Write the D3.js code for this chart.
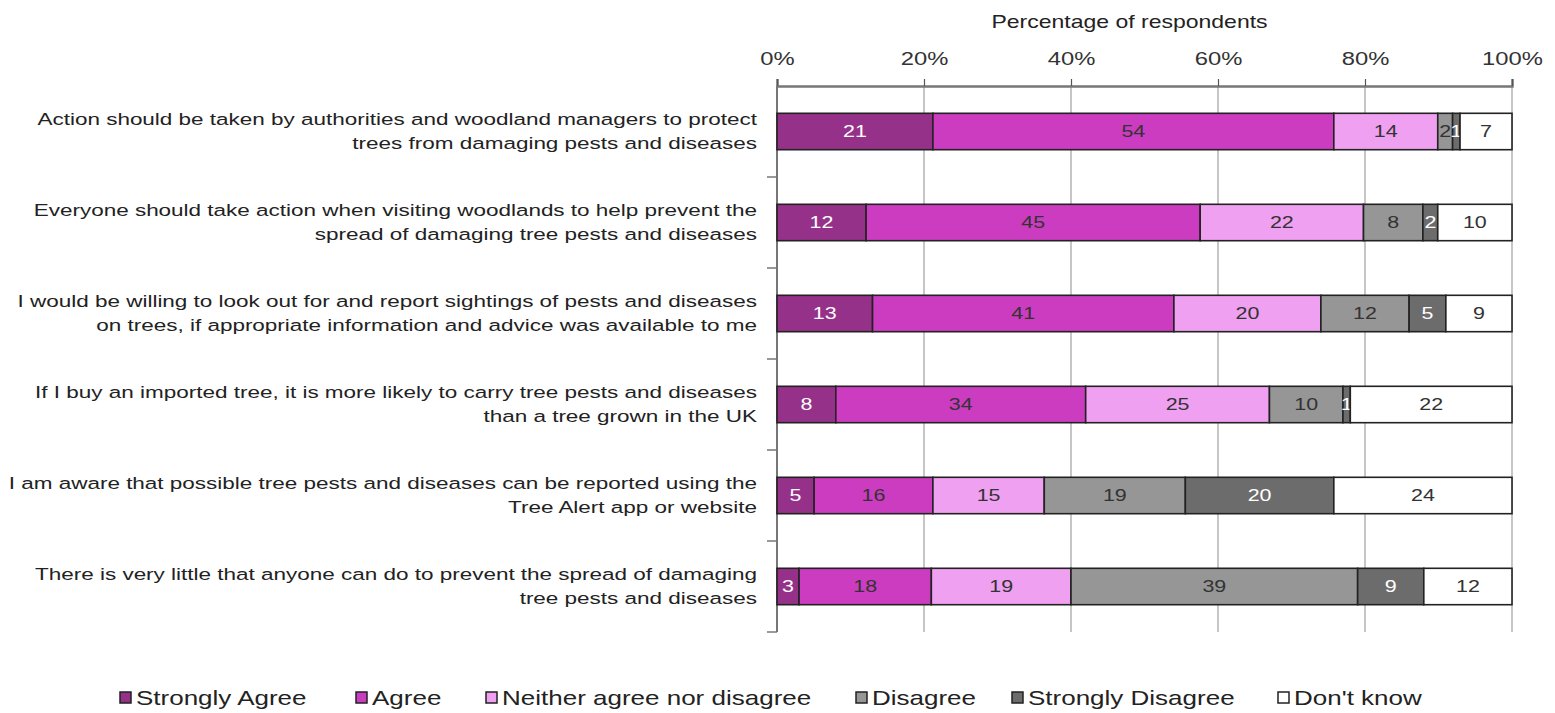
<!DOCTYPE html>
<html>
<head>
<meta charset="utf-8">
<script src="https://cdn.jsdelivr.net/npm/d3@7"></script>
<style>
  body { margin: 0; background: #fff; }
  svg { font-family: "Liberation Sans", Arial, sans-serif; }
</style>
</head>
<body>
<div id="chart"></div>
<script>
// statements, split into the two lines shown in the picture
const statements = [
  ["Action should be taken by authorities and woodland managers to protect", "trees from damaging pests and diseases"],
  ["Everyone should take action when visiting woodlands to help prevent the", "spread of damaging tree pests and diseases"],
  ["I would be willing to look out for and report sightings of pests and diseases", "on trees, if appropriate information and advice was available to me"],
  ["If I buy an imported tree, it is more likely to carry tree pests and diseases", "than a tree grown in the UK"],
  ["I am aware that possible tree pests and diseases can be reported using the", "Tree Alert app or website"],
  ["There is very little that anyone can do to prevent the spread of damaging", "tree pests and diseases"]
];

const responses = ["Strongly Agree", "Agree", "Neither agree nor disagree", "Disagree", "Strongly Disagree", "Don't know"];

const stronglyAgree    = [21, 12, 13, 8, 5, 3];
const agree            = [54, 45, 41, 34, 16, 18];
const neither          = [14, 22, 20, 25, 15, 19];
const disagree         = [2, 8, 12, 10, 19, 39];
const stronglyDisagree = [1, 2, 5, 1, 20, 9];
const dontKnow         = [7, 10, 9, 22, 24, 12];

const xTicks = [0, 20, 40, 60, 80, 100];

const colors = ["#963189", "#cc3cc0", "#f0a0f0", "#969696", "#6c6c6c", "#ffffff"];
const labelColors = ["#ffffff", "#333333", "#333333", "#333333", "#ffffff", "#333333"];

const series = [stronglyAgree, agree, neither, disagree, stronglyDisagree, dontKnow];

// the picture's text is stretched sideways, so every label gets this x-scale
const stretch = 1.3;

// build rows for the stack (100% stacked, so normalise each row)
const rows = statements.map((s, i) => {
  const row = { idx: i };
  const total = d3.sum(series, v => v[i]);
  responses.forEach((r, j) => {
    row[r] = series[j][i] / total * 100;
    row[r + "_raw"] = series[j][i];
  });
  return row;
});

const config = { width: 1555, height: 713, margin: { top: 86, right: 43, bottom: 81, left: 777 } };
const width = config.width - config.margin.left - config.margin.right;
const height = config.height - config.margin.top - config.margin.bottom;

const svg = d3.select("#chart").append("svg")
  .attr("width", config.width)
  .attr("height", config.height);

const chart = svg.append("g")
  .attr("transform", `translate(${config.margin.left}, ${config.margin.top})`);

const xScale = d3.scaleLinear().domain([0, 100]).range([0, width]);
const yScale = d3.scaleBand().domain(d3.range(statements.length)).range([0, height]).paddingInner(0.6).paddingOuter(0.3);

// gridlines
chart.append("g").selectAll("line")
  .data(xTicks.slice(1))
  .join("line")
  .attr("x1", d => xScale(d)).attr("x2", d => xScale(d))
  .attr("y1", 0).attr("y2", height)
  .attr("stroke", "#a0a0a0").attr("stroke-width", 1.2);

// top axis
const xAxis = d3.axisTop(xScale).tickValues(xTicks).tickFormat(d => d + "%").tickSize(7).tickPadding(14);
const xAxisGroup = chart.append("g").attr("class", "axis x-axis").call(xAxis);
xAxisGroup.select(".domain").attr("stroke", "#777").attr("stroke-width", 2.5);
xAxisGroup.selectAll(".tick line").attr("stroke", "#555").attr("stroke-width", 1.2);
xAxisGroup.selectAll(".tick text")
  .attr("font-size", 18.3)
  .attr("fill", "#333")
  .attr("transform", `scale(${stretch},1)`);

// left axis with ticks between the categories
chart.append("line")
  .attr("x1", 0).attr("x2", 0).attr("y1", 0).attr("y2", height)
  .attr("stroke", "#777").attr("stroke-width", 2);
chart.append("g").selectAll("line")
  .data(d3.range(1, statements.length + 1))
  .join("line")
  .attr("x1", -10).attr("x2", 0)
  .attr("y1", d => d * yScale.step()).attr("y2", d => d * yScale.step())
  .attr("stroke", "#777").attr("stroke-width", 1.5);

// axis title
svg.append("text")
  .attr("transform", `translate(${config.margin.left + width / 2 - 15}, 28) scale(${stretch},1)`)
  .attr("text-anchor", "middle")
  .attr("font-size", 17.7)
  .attr("fill", "#222")
  .text("Percentage of respondents");

// bars
const stack = d3.stack().keys(responses);
const stacked = stack(rows);

const layers = chart.selectAll(".layer")
  .data(stacked)
  .join("g")
  .attr("class", "layer")
  .attr("fill", (d, i) => colors[i]);

layers.selectAll("rect")
  .data(d => d)
  .join("rect")
  .attr("x", d => xScale(d[0]))
  .attr("y", d => yScale(d.data.idx))
  .attr("width", d => xScale(d[1]) - xScale(d[0]))
  .attr("height", yScale.bandwidth())
  .attr("stroke", "#222")
  .attr("stroke-width", 1.6);

// value labels
layers.each(function(layer, li) {
  d3.select(this).selectAll("text")
    .data(layer)
    .join("text")
    .attr("transform", d => `translate(${(xScale(d[0]) + xScale(d[1])) / 2}, ${yScale(d.data.idx) + yScale.bandwidth() / 2}) scale(${stretch},1)`)
    .attr("dy", "0.36em")
    .attr("text-anchor", "middle")
    .attr("font-size", 16.5)
    .attr("fill", labelColors[li])
    .text(d => d.data[layer.key + "_raw"]);
});

// category labels
const catLabels = chart.append("g").selectAll("text")
  .data(statements)
  .join("text")
  .attr("text-anchor", "end")
  .attr("font-size", 17.3)
  .attr("fill", "#222")
  .attr("transform", (d, i) => `translate(-20, ${yScale(i) + yScale.bandwidth() / 2}) scale(${stretch},1)`);

catLabels.selectAll("tspan")
  .data(d => d)
  .join("tspan")
  .attr("x", 0)
  .attr("y", (d, i) => i === 0 ? -7 : 18)
  .text(d => d);

// legend
const legendX = [120, 356, 486, 856, 1012, 1278];
const legend = svg.append("g").selectAll("g")
  .data(responses)
  .join("g")
  .attr("transform", (d, i) => `translate(${legendX[i]}, 698)`);

legend.append("rect")
  .attr("x", 0).attr("y", -6)
  .attr("width", 11).attr("height", 11)
  .attr("fill", (d, i) => colors[i])
  .attr("stroke", "#222").attr("stroke-width", 1.5);

legend.append("text")
  .attr("transform", `translate(16, 0) scale(${stretch},1)`)
  .attr("dy", "0.36em")
  .attr("font-size", 20)
  .attr("fill", "#222")
  .text(d => d);
</script>
</body>
</html>
